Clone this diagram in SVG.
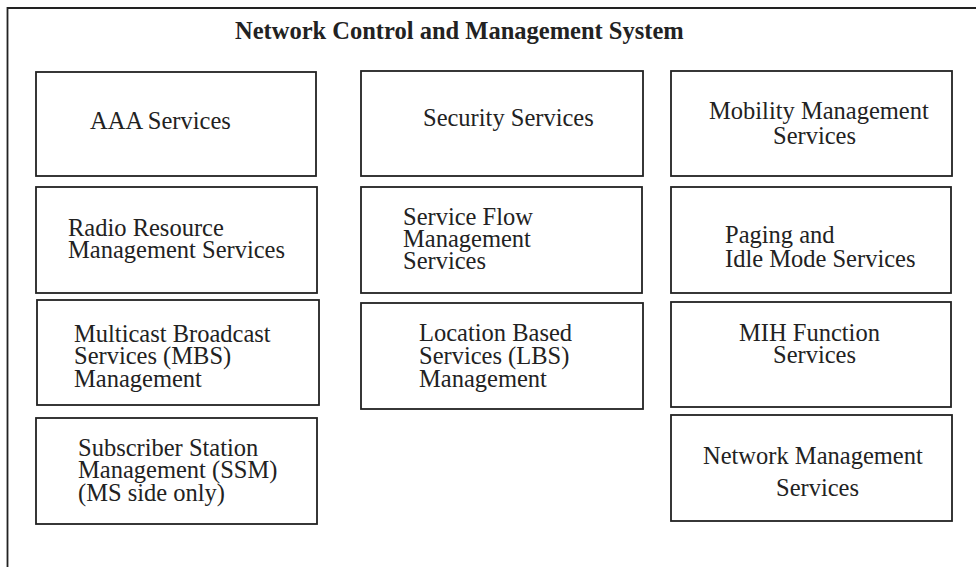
<svg xmlns="http://www.w3.org/2000/svg" width="976" height="567" viewBox="0 0 976 567">
<style>
.box{fill:#fff;stroke:#222;stroke-width:1.8}
.frame{fill:none;stroke:#222;stroke-width:1.8}
text{font-family:"Liberation Serif","Times New Roman",serif;font-size:24.5px;fill:#222}
.title{font-weight:bold}
</style>
<rect width="976" height="567" fill="#fff"/>
<g id="frame">
<path class="frame" d="M976,8 H7.5 V567"/>
<text class="title" x="235" y="39">Network Control and Management System</text>
</g>
<g id="aaa"><rect class="box" x="36" y="72" width="280" height="104"/><text x="90" y="129">AAA Services</text></g>
<g id="rrm"><rect class="box" x="36" y="187" width="281" height="106"/><text x="68" y="236">Radio Resource</text><text x="68" y="258">Management Services</text></g>
<g id="mbs"><rect class="box" x="37" y="300" width="282" height="105"/><text x="74" y="342">Multicast Broadcast</text><text x="74" y="364">Services (MBS)</text><text x="74" y="387">Management</text></g>
<g id="ssm"><rect class="box" x="36" y="418" width="281" height="106"/><text x="78" y="456">Subscriber Station</text><text x="78" y="478">Management (SSM)</text><text x="78" y="501">(MS side only)</text></g>
<g id="security"><rect class="box" x="361" y="71" width="282" height="105"/><text x="423" y="126">Security Services</text></g>
<g id="sfm"><rect class="box" x="361" y="187" width="281" height="106"/><text x="403" y="225">Service Flow</text><text x="403" y="247">Management</text><text x="403" y="269">Services</text></g>
<g id="lbs"><rect class="box" x="361" y="303" width="282" height="106"/><text x="419" y="341">Location Based</text><text x="419" y="364">Services (LBS)</text><text x="419" y="387">Management</text></g>
<g id="mobility"><rect class="box" x="671" y="71" width="281" height="105"/><text x="709" y="119">Mobility Management</text><text x="773" y="144">Services</text></g>
<g id="paging"><rect class="box" x="671" y="187" width="280" height="106"/><text x="725" y="243">Paging and</text><text x="725" y="267">Idle Mode Services</text></g>
<g id="mih"><rect class="box" x="671" y="302" width="280" height="105"/><text x="739" y="341">MIH Function</text><text x="773" y="363">Services</text></g>
<g id="nms"><rect class="box" x="671" y="415" width="281" height="106"/><text x="703" y="464">Network Management</text><text x="776" y="496">Services</text></g>
<g id="connectors"></g>
</svg>
